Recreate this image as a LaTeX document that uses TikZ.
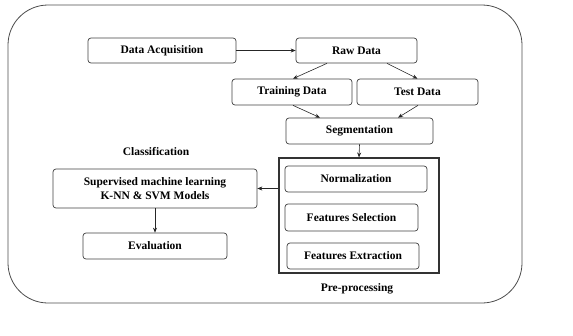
\documentclass[tikz,border=0pt]{standalone}
\usepackage{fontspec}
\setmainfont{Liberation Serif}
\usetikzlibrary{calc,arrows.meta}
\begin{document}
\begin{tikzpicture}[x=1pt,y=-1pt,
  box/.style={draw=black!75,line width=0.7pt,rounded corners=3pt,align=center,
    inner sep=0pt,font=\bfseries\fontsize{11.5}{14}\selectfont},
  lbl/.style={font=\bfseries\fontsize{11.5}{14}\selectfont,inner sep=0pt},
  arr/.style={draw=black!85,line width=0.6pt,-{Stealth[length=5pt,width=4pt]}}]
\useasboundingbox (0,0) rectangle (573,335);
\draw[black!70,line width=0.8pt,rounded corners=40pt] (8,5) rectangle (522,303);
\node[box,minimum width=148pt,minimum height=25pt] (da) at (162,50.5) {Data Acquisition};
\node[box,minimum width=121pt,minimum height=25pt] (raw) at (356.5,50.5) {Raw Data};
\node[box,minimum width=120pt,minimum height=26pt] (train) at (292,92) {Training Data};
\node[box,minimum width=121pt,minimum height=26pt] (test) at (417.5,92) {Test Data};
\node[box,minimum width=147pt,minimum height=26pt] (seg) at (359.5,131) {Segmentation};
\node[draw=black!80,line width=1.1pt,minimum width=160pt,minimum height=115pt,inner sep=0pt] (pre) at (359,215.5) {};
\node[box,minimum width=142pt,minimum height=26pt] (norm) at (356,179) {Normalization};
\node[box,minimum width=133pt,minimum height=27pt] (fsel) at (351.5,217.5) {Features Selection};
\node[box,minimum width=132pt,minimum height=26pt] (fext) at (353,256) {Features Extraction};
\node[box,minimum width=204pt,minimum height=39pt] (sup) at (155,188.5) {Supervised machine learning\\K-NN \& SVM Models};
\node[box,minimum width=144pt,minimum height=26pt] (eval) at (155,246) {Evaluation};
\node[lbl] (cls) at (156,152) {Classification};
\node[lbl] (prel) at (357,289) {Pre-processing};
\draw[arr] (da.east) -- (raw.west);
\draw[arr] ($(raw.south)+(-29.5,0)$) -- ($(train.north)+(1,0)$);
\draw[arr] ($(raw.south)+(30.5,0)$) -- (test.north);
\draw[arr] ($(train.south)+(1,0)$) -- ($(seg.north)+(-39.5,0)$);
\draw[arr] ($(test.south)+(0.5,0)$) -- ($(seg.north)+(38.5,0)$);
\draw[arr] (seg.south) -- (pre.north);
\draw[arr] (sup.east -| pre.west) -- (sup.east);
\draw[arr] (sup.south) -- (eval.north);
\end{tikzpicture}
\end{document}
